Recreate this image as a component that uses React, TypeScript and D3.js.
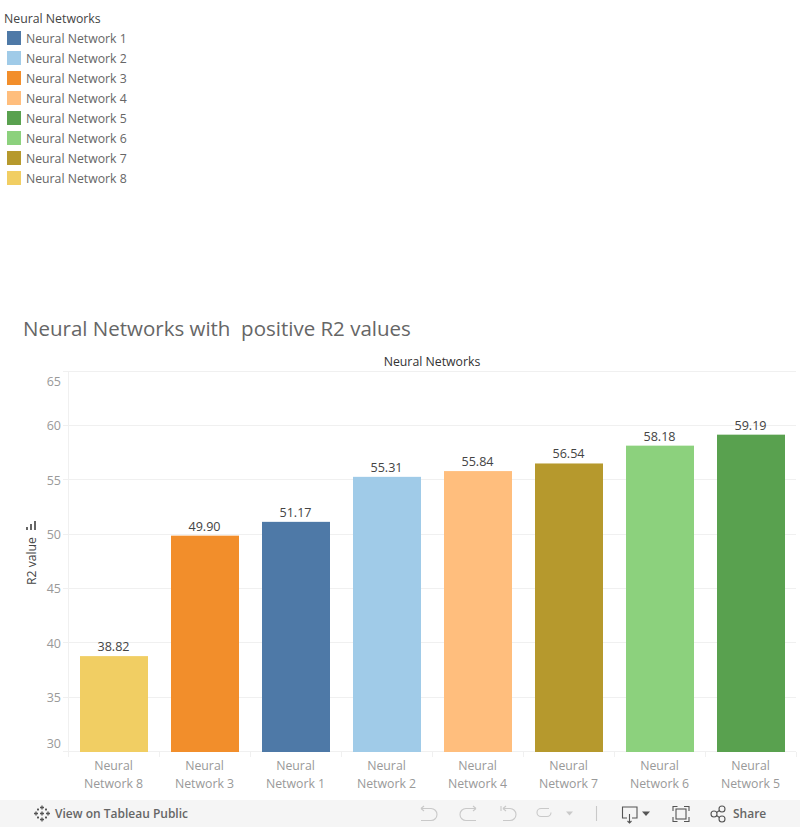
import React from "react";
import * as d3 from "d3";

const legendTitle = "Neural Networks";
const legendNames = ["Neural Network 1","Neural Network 2","Neural Network 3","Neural Network 4","Neural Network 5","Neural Network 6","Neural Network 7","Neural Network 8"];
const legendColors = ["#4e79a7","#a0cbe8","#f28e2b","#ffbe7d","#59a14f","#8cd17d","#b6992d","#f1ce63"];
const categories = [8,3,1,2,4,7,6,5];
const values = [38.82,49.90,51.17,55.31,55.84,56.54,58.18,59.19];
const yTicks = [30,35,40,45,50,55,60,65];
const title = "Neural Networks with  positive R2 values";

const FONT = "'Open Sans', Lato, sans-serif";

export default function App() {
  const x = d3.scaleBand<number>().domain(categories).range([68.5, 796.5]).paddingInner(23/91).paddingOuter(11.5/91);
  const y = d3.scaleLinear().domain([30, 65]).range([752, 371.5]);
  const bandStep = x.step();
  const x0 = 68.5;
  return (
    <svg width={800} height={827} style={{position:"absolute",left:0,top:0,display:"block"}} fontFamily={FONT}>
      <rect width={800} height={827} fill="#fff"/>
      <text x={4} y={23} fontSize={12.3} fill="#444">{legendTitle}</text>
      {legendNames.map((n,i)=>(
        <g key={n}>
          <rect x={7} y={31+i*20} width={14} height={14} fill={legendColors[i]}/>
          <text x={26} y={43+i*20} fontSize={12.25} fill="#666">{n}</text>
        </g>
      ))}
      <text x={23} y={336} fontSize={20.5} fill="#666" style={{whiteSpace:"pre"}}>{title}</text>
      <text x={432} y={366} fontSize={12.3} fill="#333" textAnchor="middle">{legendTitle}</text>

      {yTicks.map(t=>(
        <line key={t} x1={63} x2={796} y1={Math.round(y(t))-0.5} y2={Math.round(y(t))-0.5} stroke="#f0f0f0"/>
      ))}
      <line x1={68.5} x2={68.5} y1={371} y2={757} stroke="#f0f0f0"/>
      {categories.map((c,i)=>(
        <line key={c} x1={x0+bandStep*(i+1)} x2={x0+bandStep*(i+1)} y1={752} y2={757} stroke="#f0f0f0"/>
      ))}
      {yTicks.map(t=>{
        const dy = t===65 ? 14 : t===30 ? -4 : 4.5;
        return <text key={t} x={61} y={y(t)+dy} fontSize={12.5} fill="#999" textAnchor="end">{t}</text>;
      })}
      <g transform="translate(35.5,585) rotate(-90)">
        <text x={0} y={0} fontSize={12.2} fill="#444">R2 value</text>
      </g>
      <g fill="#666">
        <rect x={26} y={527} width={2} height={3}/>
        <rect x={30} y={524} width={2} height={6}/>
        <rect x={34} y={521} width={2} height={9}/>
      </g>

      {categories.map((c,i)=>{
        const bx = x(c)!;
        const cx = bx + x.bandwidth()/2;
        return (
          <g key={c}>
            <rect x={bx} y={y(values[i])} width={x.bandwidth()} height={752-y(values[i])} fill={legendColors[c-1]}/>
            <text x={cx-0.5} y={y(values[i])-5} fontSize={12.6} fill="#444" textAnchor="middle">{values[i].toFixed(2)}</text>
            <text x={cx-0.5} y={770} fontSize={12.3} fill="#999" textAnchor="middle">Neural</text>
            <text x={cx-0.5} y={788} fontSize={12.3} fill="#999" textAnchor="middle">{`Network ${c}`}</text>
          </g>
        );
      })}

      <rect x={0} y={800} width={800} height={27} fill="#f5f5f5"/>
      <g stroke="#555" strokeWidth={1.3} fill="none" transform="translate(42,813.5)">
        <path d="M0-8V-4M-2-6H2M0 8V4M-2 6H2M-8 0H-4M-6-2V2M8 0H4M6-2V2M-4-5V-3M-5-4H-3M4-5V-3M3-4H5M-4 3V5M-5 4H-3M4 3V5M3 4H5M-2 0H2M0-2V2"/>
      </g>
      <text x={55} y={818} fontSize={12} fontWeight={600} fill="#666">View on Tableau Public</text>
      <g fill="none" stroke="#c9c9c9" strokeWidth={1.1}>
        <path d="M421 808.5H431a6 6 0 0 1 0 12H421M421 808.5l3-2.5M421 808.5l3 2.5"/>
        <path d="M476 808.5H466a6 6 0 0 0 0 12H476M476 808.5l-3-2.5M476 808.5l-3 2.5"/>
        <path d="M501 806v5M503 808.5H510a6 6 0 0 1 0 12H503M503 808.5l3-2.5M503 808.5l3 2.5"/>
        <path d="M549 808.5H541a4 4 0 0 0 0 8H547a4 4 0 0 0 4-4"/>
        <path d="M596.5 806V821"/>
      </g>
      <path d="M566 811.5h7l-3.5 4z" fill="#c9c9c9"/>
      <g fill="none" stroke="#555" strokeWidth={1.1}>
        <path d="M627 818H622.5V807H637V818H632M629.5 814V823M627.5 821l2 2 2-2"/>
        <path d="M673 811V806.5H677.5M684 806.5H689V811M689 817V821.5H684M677.5 821.5H673V817"/>
        <rect x={676} y={809} width={10} height={10}/>
        <circle cx={714} cy={814} r={3}/><circle cx={722} cy={809} r={3}/><circle cx={722} cy={819} r={3}/>
        <path d="M716.5 812.5L719.5 810.5M716.5 815.5L719.5 817.5"/>
      </g>
      <path d="M642 811.5h8l-4 4.5z" fill="#555"/>
      <text x={733} y={818} fontSize={12} fontWeight={600} fill="#666">Share</text>
    </svg>
  );
}
